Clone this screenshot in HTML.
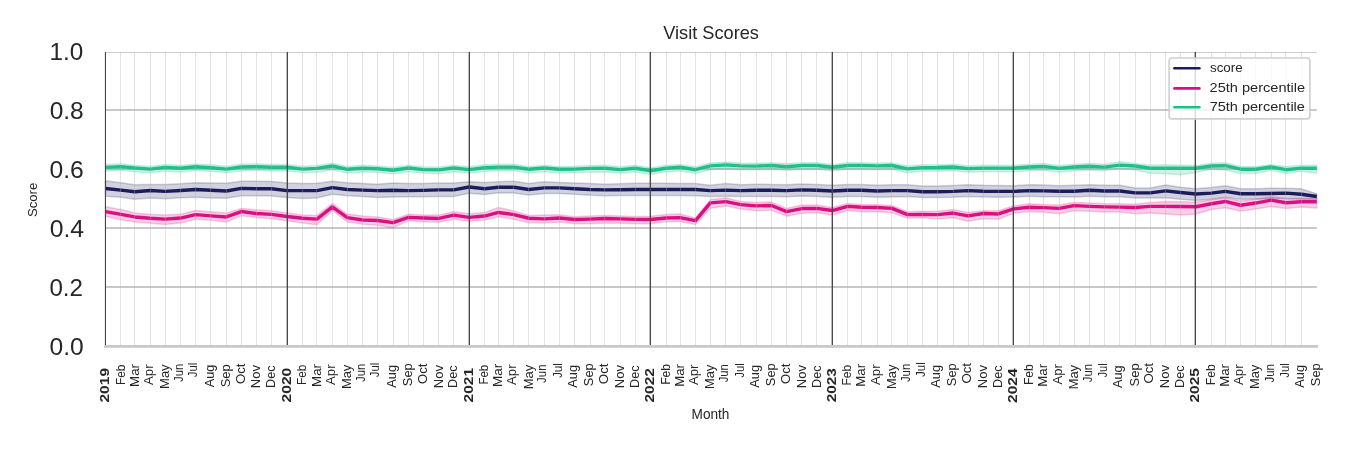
<!DOCTYPE html><html><head><meta charset="utf-8"><title>Visit Scores</title><style>html,body{margin:0;padding:0;background:#fff;}svg{display:block;}text{font-family:"Liberation Sans",sans-serif;fill:#262626;}</style></head><body>
<svg width="1350" height="450" viewBox="0 0 1350 450">
<rect width="1350" height="450" fill="#fff"/>
<line x1="105.5" y1="52.5" x2="1316.8" y2="52.5" stroke="#cccccc" stroke-width="1"/>
<line x1="105.0" y1="110.0" x2="1316.8" y2="110.0" stroke="#c8c8c8" stroke-width="2.1"/>
<line x1="105.0" y1="169.0" x2="1316.8" y2="169.0" stroke="#c8c8c8" stroke-width="2.1"/>
<line x1="105.0" y1="228.0" x2="1316.8" y2="228.0" stroke="#c8c8c8" stroke-width="2.1"/>
<line x1="105.0" y1="287.0" x2="1316.8" y2="287.0" stroke="#c8c8c8" stroke-width="2.1"/>
<rect x="104" y="345" width="1214" height="2.8" fill="#c9c9c9"/>
<polygon points="105.50,180.75 120.92,182.85 134.85,184.75 150.27,184.45 165.19,184.45 180.62,183.75 195.54,182.85 210.96,183.05 226.38,183.35 241.30,181.15 256.73,181.25 271.65,181.55 287.07,183.05 302.49,183.55 316.92,183.35 332.34,181.15 347.26,182.65 362.68,183.55 377.61,184.15 393.03,183.05 408.45,183.55 423.37,183.55 438.79,183.05 453.72,183.05 469.14,181.85 484.56,182.45 498.49,181.85 513.91,181.15 528.83,183.55 544.25,181.85 559.18,182.45 574.60,183.05 590.02,183.55 604.94,184.15 620.36,183.65 635.29,183.35 650.71,183.35 666.13,183.35 680.06,183.55 695.48,183.55 710.40,185.25 725.82,183.55 740.75,184.65 756.17,184.25 771.59,184.45 786.51,184.75 801.94,184.05 816.86,184.45 832.28,185.15 847.70,184.45 861.63,184.45 877.05,185.15 891.97,184.75 907.40,184.75 922.32,186.05 937.74,186.05 953.16,185.55 968.08,184.75 983.51,185.35 998.43,185.55 1013.85,185.75 1029.27,184.65 1043.70,185.05 1059.12,185.75 1074.04,185.35 1089.46,184.65 1104.39,185.15 1119.81,185.15 1135.23,188.05 1150.15,188.05 1165.57,185.05 1180.50,187.35 1195.92,188.85 1211.34,187.55 1225.27,185.65 1240.69,188.85 1255.61,188.85 1271.03,188.15 1285.96,188.15 1301.38,188.85 1316.80,193.85 1316.80,199.20 1301.38,199.20 1285.96,198.50 1271.03,198.50 1255.61,199.00 1240.69,199.20 1225.27,197.30 1211.34,199.20 1195.92,200.40 1180.50,199.20 1165.57,197.70 1150.15,197.90 1135.23,197.90 1119.81,196.80 1104.39,196.80 1089.46,196.30 1074.04,197.00 1059.12,196.80 1043.70,196.70 1029.27,196.30 1013.85,197.10 998.43,197.20 983.51,197.00 968.08,196.40 953.16,197.20 937.74,197.40 922.32,197.40 907.40,196.40 891.97,196.90 877.05,197.30 861.63,196.60 847.70,196.60 832.28,197.30 816.86,196.50 801.94,196.10 786.51,196.80 771.59,196.50 756.17,196.60 740.75,196.50 725.82,196.30 710.40,196.50 695.48,195.80 680.06,195.60 666.13,195.60 650.71,195.40 635.29,195.40 620.36,195.60 604.94,195.70 590.02,195.20 574.60,194.30 559.18,193.40 544.25,193.40 528.83,194.90 513.91,193.00 498.49,192.70 484.56,194.50 469.14,193.20 453.72,196.50 438.79,196.50 423.37,196.80 408.45,196.80 393.03,197.10 377.61,197.40 362.68,196.50 347.26,195.70 332.34,194.30 316.92,197.90 302.49,198.50 287.07,197.40 271.65,196.00 256.73,195.70 241.30,195.70 226.38,198.20 210.96,197.90 195.54,197.30 180.62,197.70 165.19,198.70 150.27,198.10 134.85,199.20 120.92,197.30 105.50,196.20" fill="#1b1c5c" fill-opacity="0.2" stroke="#1b1c5c" stroke-opacity="0.2" stroke-width="1.5" stroke-linejoin="round"/>
<polygon points="105.50,206.70 120.92,209.60 134.85,213.10 150.27,214.30 165.19,215.10 180.62,214.30 195.54,210.40 210.96,211.80 226.38,212.90 241.30,208.50 256.73,209.80 271.65,210.70 287.07,213.10 302.49,215.10 316.92,215.40 332.34,203.40 347.26,214.00 362.68,215.90 377.61,216.90 393.03,219.60 408.45,214.30 423.37,214.90 438.79,215.10 453.72,211.80 469.14,213.70 484.56,212.60 498.49,207.40 513.91,210.90 528.83,215.40 544.25,215.10 559.18,214.80 574.60,216.70 590.02,215.90 604.94,215.40 620.36,215.90 635.29,216.50 650.71,216.30 666.13,214.60 680.06,214.00 695.48,217.90 710.40,199.60 725.82,198.10 740.75,201.50 756.17,202.40 771.59,202.10 786.51,208.50 801.94,205.10 816.86,205.10 832.28,207.40 847.70,203.50 861.63,204.60 877.05,204.80 891.97,205.50 907.40,211.80 922.32,211.30 937.74,211.30 953.16,209.60 968.08,212.40 983.51,210.70 998.43,210.70 1013.85,205.70 1029.27,203.70 1043.70,204.60 1059.12,204.90 1074.04,202.40 1089.46,203.10 1104.39,203.70 1119.81,203.70 1135.23,204.30 1150.15,202.60 1165.57,201.50 1180.50,201.70 1195.92,202.20 1211.34,199.70 1225.27,197.70 1240.69,200.70 1255.61,199.20 1271.03,196.70 1285.96,198.70 1301.38,198.20 1316.80,198.70 1316.80,208.05 1301.38,207.05 1285.96,208.55 1271.03,206.55 1255.61,209.05 1240.69,211.05 1225.27,207.85 1211.34,209.55 1195.92,214.05 1180.50,215.05 1165.57,213.95 1150.15,213.05 1135.23,213.65 1119.81,211.95 1104.39,211.95 1089.46,211.35 1074.04,210.85 1059.12,213.75 1043.70,212.25 1029.27,211.45 1013.85,213.35 998.43,219.25 983.51,218.65 968.08,221.15 953.16,217.85 937.74,218.95 922.32,217.85 907.40,218.35 891.97,212.85 877.05,211.75 861.63,211.75 847.70,210.65 832.28,215.05 816.86,212.85 801.94,213.35 786.51,216.15 771.59,210.35 756.17,210.65 740.75,208.95 725.82,205.95 710.40,208.15 695.48,224.45 680.06,221.45 666.13,221.75 650.71,223.75 635.29,223.85 620.36,223.35 604.94,223.05 590.02,223.85 574.60,223.85 559.18,221.95 544.25,223.05 528.83,222.75 513.91,219.15 498.49,216.75 484.56,220.05 469.14,221.35 453.72,219.15 438.79,222.25 423.37,221.65 408.45,220.85 393.03,227.85 377.61,225.15 362.68,224.15 347.26,221.95 332.34,210.45 316.92,224.75 302.49,223.05 287.07,220.85 271.65,218.65 256.73,217.45 241.30,215.85 226.38,221.95 210.96,220.25 195.54,219.15 180.62,223.05 165.19,224.45 150.27,223.35 134.85,221.95 120.92,219.75 105.50,216.35" fill="#dc0f82" fill-opacity="0.2" stroke="#dc0f82" stroke-opacity="0.2" stroke-width="1.5" stroke-linejoin="round"/>
<polygon points="105.50,164.55 120.92,163.75 134.85,165.15 150.27,166.25 165.19,164.55 180.62,165.35 195.54,163.95 210.96,164.85 226.38,166.25 241.30,164.15 256.73,163.75 271.65,164.45 287.07,164.45 302.49,166.25 316.92,165.55 332.34,163.15 347.26,166.45 362.68,165.35 377.61,165.95 393.03,167.35 408.45,165.15 423.37,166.75 438.79,167.05 453.72,165.15 469.14,166.75 484.56,164.85 498.49,164.25 513.91,164.25 528.83,166.45 544.25,165.15 559.18,166.45 574.60,166.25 590.02,165.55 604.94,165.35 620.36,166.75 635.29,165.35 650.71,167.85 666.13,165.35 680.06,164.45 695.48,166.85 710.40,163.05 725.82,162.05 740.75,163.05 756.17,163.25 771.59,162.65 786.51,163.85 801.94,162.65 816.86,162.65 832.28,164.45 847.70,162.65 861.63,162.65 877.05,163.05 891.97,162.65 907.40,166.05 922.32,164.75 937.74,164.65 953.16,164.15 968.08,165.75 983.51,165.25 998.43,165.25 1013.85,165.25 1029.27,164.15 1043.70,163.55 1059.12,165.55 1074.04,164.15 1089.46,163.35 1104.39,164.25 1119.81,161.65 1135.23,163.45 1150.15,165.05 1165.57,164.65 1180.50,165.05 1195.92,165.55 1211.34,163.35 1225.27,162.75 1240.69,166.45 1255.61,166.45 1271.03,164.45 1285.96,166.45 1301.38,165.15 1316.80,165.15 1316.80,173.55 1301.38,171.25 1285.96,173.55 1271.03,170.25 1255.61,173.55 1240.69,173.55 1225.27,169.95 1211.34,169.15 1195.92,172.45 1180.50,174.65 1165.57,173.75 1150.15,173.35 1135.23,170.05 1119.81,168.55 1104.39,170.85 1089.46,169.95 1074.04,170.75 1059.12,172.15 1043.70,170.15 1029.27,170.75 1013.85,171.85 998.43,171.85 983.51,171.85 968.08,172.35 953.16,170.75 937.74,171.25 922.32,171.35 907.40,172.65 891.97,169.25 877.05,169.65 861.63,169.25 847.70,169.25 832.28,171.05 816.86,169.25 801.94,169.25 786.51,170.45 771.59,169.25 756.17,169.85 740.75,169.65 725.82,168.65 710.40,169.65 695.48,173.45 680.06,171.05 666.13,171.95 650.71,174.45 635.29,171.95 620.36,173.35 604.94,171.95 590.02,172.15 574.60,172.85 559.18,173.05 544.25,171.75 528.83,173.05 513.91,170.85 498.49,170.85 484.56,171.45 469.14,173.35 453.72,171.75 438.79,173.65 423.37,173.35 408.45,171.75 393.03,173.95 377.61,172.55 362.68,171.95 347.26,173.05 332.34,169.75 316.92,172.15 302.49,172.85 287.07,171.05 271.65,171.05 256.73,170.35 241.30,170.75 226.38,172.85 210.96,171.45 195.54,170.55 180.62,171.95 165.19,171.15 150.27,172.85 134.85,171.75 120.92,170.35 105.50,171.15" fill="#1fbf8c" fill-opacity="0.2" stroke="#1fbf8c" stroke-opacity="0.2" stroke-width="1.5" stroke-linejoin="round"/>
<polyline points="105.50,188.50 120.92,190.10 134.85,191.70 150.27,190.50 165.19,191.40 180.62,190.50 195.54,189.50 210.96,190.30 226.38,191.00 241.30,188.40 256.73,188.70 271.65,188.70 287.07,190.60 302.49,190.60 316.92,190.60 332.34,187.60 347.26,189.50 362.68,190.10 377.61,190.60 393.03,190.30 408.45,190.60 423.37,190.40 438.79,189.90 453.72,189.90 469.14,187.00 484.56,188.70 498.49,187.30 513.91,187.30 528.83,189.50 544.25,187.90 559.18,187.90 574.60,188.70 590.02,189.50 604.94,189.90 620.36,189.70 635.29,189.50 650.71,189.50 666.13,189.50 680.06,189.50 695.48,189.50 710.40,190.60 725.82,190.10 740.75,190.60 756.17,190.30 771.59,190.30 786.51,190.60 801.94,189.90 816.86,190.30 832.28,191.00 847.70,190.30 861.63,190.30 877.05,191.00 891.97,190.60 907.40,190.60 922.32,191.70 937.74,191.70 953.16,191.40 968.08,190.60 983.51,191.20 998.43,191.40 1013.85,191.40 1029.27,190.60 1043.70,190.90 1059.12,191.20 1074.04,191.20 1089.46,190.30 1104.39,191.00 1119.81,191.00 1135.23,192.90 1150.15,192.90 1165.57,190.90 1180.50,192.50 1195.92,194.00 1211.34,193.10 1225.27,191.40 1240.69,193.70 1255.61,193.70 1271.03,193.50 1285.96,193.10 1301.38,194.30 1316.80,196.50" fill="none" stroke="#1b1c5c" stroke-width="3.4" stroke-linejoin="round" stroke-linecap="butt"/>
<polyline points="105.50,211.55 120.92,214.35 134.85,216.95 150.27,218.25 165.19,219.15 180.62,218.05 195.54,214.65 210.96,215.85 226.38,216.95 241.30,211.55 256.73,213.55 271.65,214.35 287.07,216.55 302.49,218.25 316.92,219.15 332.34,206.95 347.26,217.65 362.68,219.95 377.61,220.55 393.03,222.65 408.45,217.35 423.37,218.05 438.79,218.45 453.72,215.15 469.14,217.35 484.56,216.05 498.49,212.45 513.91,214.65 528.83,218.25 544.25,218.85 559.18,218.05 574.60,219.55 590.02,219.15 604.94,218.55 620.36,218.85 635.29,219.35 650.71,219.45 666.13,218.05 680.06,217.65 695.48,220.55 710.40,202.85 725.82,201.65 740.75,204.65 756.17,205.85 771.59,205.45 786.51,211.65 801.94,208.55 816.86,208.35 832.28,210.55 847.70,206.35 861.63,207.25 877.05,207.45 891.97,208.35 907.40,214.65 922.32,214.35 937.74,214.65 953.16,213.05 968.08,215.85 983.51,213.55 998.43,213.95 1013.85,208.85 1029.27,207.25 1043.70,207.65 1059.12,208.35 1074.04,205.65 1089.46,206.35 1104.39,206.85 1119.81,207.15 1135.23,207.45 1150.15,206.35 1165.57,206.35 1180.50,206.55 1195.92,206.75 1211.34,203.75 1225.27,201.45 1240.69,205.25 1255.61,203.05 1271.03,200.05 1285.96,202.75 1301.38,201.75 1316.80,201.75" fill="none" stroke="#dc0f82" stroke-width="3.4" stroke-linejoin="round" stroke-linecap="butt"/>
<polyline points="105.50,167.40 120.92,166.60 134.85,168.00 150.27,169.10 165.19,167.40 180.62,168.20 195.54,166.80 210.96,167.70 226.38,169.10 241.30,167.00 256.73,166.60 271.65,167.30 287.07,167.30 302.49,169.10 316.92,168.40 332.34,166.00 347.26,169.30 362.68,168.20 377.61,168.80 393.03,170.20 408.45,168.00 423.37,169.60 438.79,169.90 453.72,168.00 469.14,169.60 484.56,167.70 498.49,167.10 513.91,167.10 528.83,169.30 544.25,168.00 559.18,169.30 574.60,169.10 590.02,168.40 604.94,168.20 620.36,169.60 635.29,168.20 650.71,170.70 666.13,168.20 680.06,167.30 695.48,169.70 710.40,165.90 725.82,164.90 740.75,165.90 756.17,166.10 771.59,165.50 786.51,166.70 801.94,165.50 816.86,165.50 832.28,167.30 847.70,165.50 861.63,165.50 877.05,165.90 891.97,165.50 907.40,168.90 922.32,167.60 937.74,167.50 953.16,167.00 968.08,168.60 983.51,168.10 998.43,168.10 1013.85,168.10 1029.27,167.00 1043.70,166.40 1059.12,168.40 1074.04,167.00 1089.46,166.20 1104.39,167.10 1119.81,165.10 1135.23,166.00 1150.15,168.20 1165.57,168.20 1180.50,168.20 1195.92,168.20 1211.34,166.00 1225.27,165.70 1240.69,169.20 1255.61,169.30 1271.03,167.00 1285.96,169.70 1301.38,168.10 1316.80,168.30" fill="none" stroke="#1fbf8c" stroke-width="3.4" stroke-linejoin="round" stroke-linecap="butt"/>
<path d="M120.5 52V346M134.5 52V346M150.5 52V346M165.5 52V346M180.5 52V346M195.5 52V346M210.5 52V346M226.5 52V346M241.5 52V346M256.5 52V346M271.5 52V346M302.5 52V346M316.5 52V346M332.5 52V346M347.5 52V346M362.5 52V346M377.5 52V346M393.5 52V346M408.5 52V346M423.5 52V346M438.5 52V346M453.5 52V346M484.5 52V346M498.5 52V346M513.5 52V346M528.5 52V346M544.5 52V346M559.5 52V346M574.5 52V346M590.5 52V346M604.5 52V346M620.5 52V346M635.5 52V346M666.5 52V346M680.5 52V346M695.5 52V346M710.5 52V346M725.5 52V346M740.5 52V346M756.5 52V346M771.5 52V346M786.5 52V346M801.5 52V346M816.5 52V346M847.5 52V346M861.5 52V346M877.5 52V346M891.5 52V346M907.5 52V346M922.5 52V346M937.5 52V346M953.5 52V346M968.5 52V346M983.5 52V346M998.5 52V346M1029.5 52V346M1043.5 52V346M1059.5 52V346M1074.5 52V346M1089.5 52V346M1104.5 52V346M1119.5 52V346M1135.5 52V346M1150.5 52V346M1165.5 52V346M1180.5 52V346M1211.5 52V346M1225.5 52V346M1240.5 52V346M1255.5 52V346M1271.5 52V346M1285.5 52V346M1301.5 52V346" stroke="#b0b0b0" stroke-opacity="0.35" stroke-width="1" fill="none"/>
<line x1="105.45" y1="52" x2="105.45" y2="345" stroke="#474747" stroke-width="1.1"/>
<line x1="287.33" y1="52" x2="287.33" y2="345" stroke="#474747" stroke-width="1.35"/>
<line x1="469.33" y1="52" x2="469.33" y2="345" stroke="#474747" stroke-width="1.35"/>
<line x1="650.33" y1="52" x2="650.33" y2="345" stroke="#474747" stroke-width="1.35"/>
<line x1="832.33" y1="52" x2="832.33" y2="345" stroke="#474747" stroke-width="1.35"/>
<line x1="1013.33" y1="52" x2="1013.33" y2="345" stroke="#474747" stroke-width="1.35"/>
<line x1="1195.33" y1="52" x2="1195.33" y2="345" stroke="#474747" stroke-width="1.35"/>
<rect x="1169.1" y="58" width="140.8" height="60.9" rx="3" ry="3" fill="#fff" fill-opacity="0.8" stroke="#cfcfcf" stroke-width="1.6"/>
<line x1="1174.4" y1="68.3" x2="1199.4" y2="68.3" stroke="#1b1c5c" stroke-width="2.6" stroke-linecap="round"/>
<line x1="1174.4" y1="88.4" x2="1199.4" y2="88.4" stroke="#dc0f82" stroke-width="2.6" stroke-linecap="round"/>
<line x1="1174.4" y1="107.3" x2="1199.4" y2="107.3" stroke="#1fbf8c" stroke-width="2.6" stroke-linecap="round"/>
<g style="will-change:transform">
<text x="663.18" y="38.93" font-size="18.77" textLength="95.78" lengthAdjust="spacingAndGlyphs">Visit Scores</text>
<text x="49.46" y="59.92" font-size="24.28" textLength="33.77" lengthAdjust="spacingAndGlyphs">1.0</text>
<text x="49.65" y="119.00" font-size="24.28" textLength="34.05" lengthAdjust="spacingAndGlyphs">0.8</text>
<text x="49.42" y="178.12" font-size="24.28" textLength="34.33" lengthAdjust="spacingAndGlyphs">0.6</text>
<text x="49.67" y="237.06" font-size="24.28" textLength="34.40" lengthAdjust="spacingAndGlyphs">0.4</text>
<text x="49.44" y="296.17" font-size="24.28" textLength="33.58" lengthAdjust="spacingAndGlyphs">0.2</text>
<text x="49.47" y="355.14" font-size="24.28" textLength="34.26" lengthAdjust="spacingAndGlyphs">0.0</text>
<text transform="translate(36.51,217.07) rotate(-90)" font-size="13.08" textLength="34.31" lengthAdjust="spacingAndGlyphs">Score</text>
<text x="691.58" y="419.35" font-size="13.86" textLength="37.88" lengthAdjust="spacingAndGlyphs">Month</text>
<text transform="translate(108.96,402.57) rotate(-90)" font-size="13.35" font-weight="bold" textLength="34.61" lengthAdjust="spacingAndGlyphs">2019</text>
<text transform="translate(125.01,385.09) rotate(-90)" font-size="13.26" textLength="20.55" lengthAdjust="spacingAndGlyphs">Feb</text>
<text transform="translate(138.75,386.89) rotate(-90)" font-size="13.26" textLength="22.87" lengthAdjust="spacingAndGlyphs">Mar</text>
<text transform="translate(152.96,384.89) rotate(-90)" font-size="13.26" textLength="20.42" lengthAdjust="spacingAndGlyphs">Apr</text>
<text transform="translate(168.99,388.89) rotate(-90)" font-size="13.26" textLength="24.45" lengthAdjust="spacingAndGlyphs">May</text>
<text transform="translate(182.64,382.05) rotate(-90)" font-size="13.26" textLength="18.31" lengthAdjust="spacingAndGlyphs">Jun</text>
<text transform="translate(197.37,377.30) rotate(-90)" font-size="13.26" textLength="14.60" lengthAdjust="spacingAndGlyphs">Jul</text>
<text transform="translate(213.97,387.27) rotate(-90)" font-size="13.26" textLength="22.57" lengthAdjust="spacingAndGlyphs">Aug</text>
<text transform="translate(230.06,387.28) rotate(-90)" font-size="13.26" textLength="23.09" lengthAdjust="spacingAndGlyphs">Sep</text>
<text transform="translate(244.90,384.04) rotate(-90)" font-size="13.26" textLength="20.56" lengthAdjust="spacingAndGlyphs">Oct</text>
<text transform="translate(260.00,388.19) rotate(-90)" font-size="13.26" textLength="23.06" lengthAdjust="spacingAndGlyphs">Nov</text>
<text transform="translate(274.96,387.95) rotate(-90)" font-size="13.26" textLength="22.58" lengthAdjust="spacingAndGlyphs">Dec</text>
<text transform="translate(290.99,402.48) rotate(-90)" font-size="13.35" font-weight="bold" textLength="34.77" lengthAdjust="spacingAndGlyphs">2020</text>
<text transform="translate(306.07,385.03) rotate(-90)" font-size="13.26" textLength="20.49" lengthAdjust="spacingAndGlyphs">Feb</text>
<text transform="translate(320.75,386.89) rotate(-90)" font-size="13.26" textLength="22.87" lengthAdjust="spacingAndGlyphs">Mar</text>
<text transform="translate(334.96,384.89) rotate(-90)" font-size="13.26" textLength="20.42" lengthAdjust="spacingAndGlyphs">Apr</text>
<text transform="translate(350.96,389.11) rotate(-90)" font-size="13.26" textLength="24.41" lengthAdjust="spacingAndGlyphs">May</text>
<text transform="translate(364.51,381.95) rotate(-90)" font-size="13.26" textLength="18.31" lengthAdjust="spacingAndGlyphs">Jun</text>
<text transform="translate(379.37,377.30) rotate(-90)" font-size="13.26" textLength="14.60" lengthAdjust="spacingAndGlyphs">Jul</text>
<text transform="translate(395.95,387.68) rotate(-90)" font-size="13.26" textLength="22.69" lengthAdjust="spacingAndGlyphs">Aug</text>
<text transform="translate(412.09,386.17) rotate(-90)" font-size="13.26" textLength="22.82" lengthAdjust="spacingAndGlyphs">Sep</text>
<text transform="translate(426.96,383.96) rotate(-90)" font-size="13.26" textLength="20.37" lengthAdjust="spacingAndGlyphs">Oct</text>
<text transform="translate(443.00,388.19) rotate(-90)" font-size="13.26" textLength="23.06" lengthAdjust="spacingAndGlyphs">Nov</text>
<text transform="translate(456.96,387.95) rotate(-90)" font-size="13.26" textLength="22.58" lengthAdjust="spacingAndGlyphs">Dec</text>
<text transform="translate(472.95,402.41) rotate(-90)" font-size="13.35" font-weight="bold" textLength="34.54" lengthAdjust="spacingAndGlyphs">2021</text>
<text transform="translate(488.01,384.60) rotate(-90)" font-size="13.26" textLength="19.87" lengthAdjust="spacingAndGlyphs">Feb</text>
<text transform="translate(501.83,386.98) rotate(-90)" font-size="13.26" textLength="23.33" lengthAdjust="spacingAndGlyphs">Mar</text>
<text transform="translate(515.96,384.89) rotate(-90)" font-size="13.26" textLength="20.42" lengthAdjust="spacingAndGlyphs">Apr</text>
<text transform="translate(532.92,389.15) rotate(-90)" font-size="13.26" textLength="24.41" lengthAdjust="spacingAndGlyphs">May</text>
<text transform="translate(546.35,382.90) rotate(-90)" font-size="13.26" textLength="18.44" lengthAdjust="spacingAndGlyphs">Jun</text>
<text transform="translate(561.97,378.00) rotate(-90)" font-size="13.26" textLength="14.92" lengthAdjust="spacingAndGlyphs">Jul</text>
<text transform="translate(576.95,387.68) rotate(-90)" font-size="13.26" textLength="22.69" lengthAdjust="spacingAndGlyphs">Aug</text>
<text transform="translate(593.09,386.17) rotate(-90)" font-size="13.26" textLength="22.82" lengthAdjust="spacingAndGlyphs">Sep</text>
<text transform="translate(607.88,384.17) rotate(-90)" font-size="13.26" textLength="20.75" lengthAdjust="spacingAndGlyphs">Oct</text>
<text transform="translate(624.00,388.19) rotate(-90)" font-size="13.26" textLength="23.06" lengthAdjust="spacingAndGlyphs">Nov</text>
<text transform="translate(638.96,387.95) rotate(-90)" font-size="13.26" textLength="22.58" lengthAdjust="spacingAndGlyphs">Dec</text>
<text transform="translate(653.94,402.61) rotate(-90)" font-size="13.35" font-weight="bold" textLength="34.56" lengthAdjust="spacingAndGlyphs">2022</text>
<text transform="translate(670.12,384.85) rotate(-90)" font-size="13.26" textLength="20.86" lengthAdjust="spacingAndGlyphs">Feb</text>
<text transform="translate(683.80,386.85) rotate(-90)" font-size="13.26" textLength="22.85" lengthAdjust="spacingAndGlyphs">Mar</text>
<text transform="translate(697.82,385.05) rotate(-90)" font-size="13.26" textLength="20.42" lengthAdjust="spacingAndGlyphs">Apr</text>
<text transform="translate(713.87,388.99) rotate(-90)" font-size="13.26" textLength="24.30" lengthAdjust="spacingAndGlyphs">May</text>
<text transform="translate(728.49,382.37) rotate(-90)" font-size="13.26" textLength="18.28" lengthAdjust="spacingAndGlyphs">Jun</text>
<text transform="translate(743.61,377.72) rotate(-90)" font-size="13.26" textLength="14.60" lengthAdjust="spacingAndGlyphs">Jul</text>
<text transform="translate(758.96,387.64) rotate(-90)" font-size="13.26" textLength="22.69" lengthAdjust="spacingAndGlyphs">Aug</text>
<text transform="translate(775.09,386.17) rotate(-90)" font-size="13.26" textLength="22.82" lengthAdjust="spacingAndGlyphs">Sep</text>
<text transform="translate(789.96,383.96) rotate(-90)" font-size="13.26" textLength="20.37" lengthAdjust="spacingAndGlyphs">Oct</text>
<text transform="translate(806.00,388.19) rotate(-90)" font-size="13.26" textLength="23.06" lengthAdjust="spacingAndGlyphs">Nov</text>
<text transform="translate(820.96,387.95) rotate(-90)" font-size="13.26" textLength="22.58" lengthAdjust="spacingAndGlyphs">Dec</text>
<text transform="translate(835.94,402.35) rotate(-90)" font-size="13.35" font-weight="bold" textLength="34.24" lengthAdjust="spacingAndGlyphs">2023</text>
<text transform="translate(851.07,385.53) rotate(-90)" font-size="13.26" textLength="20.67" lengthAdjust="spacingAndGlyphs">Feb</text>
<text transform="translate(864.84,386.70) rotate(-90)" font-size="13.26" textLength="22.88" lengthAdjust="spacingAndGlyphs">Mar</text>
<text transform="translate(879.96,384.89) rotate(-90)" font-size="13.26" textLength="20.42" lengthAdjust="spacingAndGlyphs">Apr</text>
<text transform="translate(895.84,388.96) rotate(-90)" font-size="13.26" textLength="24.30" lengthAdjust="spacingAndGlyphs">May</text>
<text transform="translate(909.69,382.11) rotate(-90)" font-size="13.26" textLength="18.39" lengthAdjust="spacingAndGlyphs">Jun</text>
<text transform="translate(924.97,377.01) rotate(-90)" font-size="13.26" textLength="14.72" lengthAdjust="spacingAndGlyphs">Jul</text>
<text transform="translate(939.95,387.68) rotate(-90)" font-size="13.26" textLength="22.69" lengthAdjust="spacingAndGlyphs">Aug</text>
<text transform="translate(956.10,386.18) rotate(-90)" font-size="13.26" textLength="22.86" lengthAdjust="spacingAndGlyphs">Sep</text>
<text transform="translate(970.89,383.51) rotate(-90)" font-size="13.26" textLength="20.56" lengthAdjust="spacingAndGlyphs">Oct</text>
<text transform="translate(987.00,388.19) rotate(-90)" font-size="13.26" textLength="23.06" lengthAdjust="spacingAndGlyphs">Nov</text>
<text transform="translate(1001.96,387.95) rotate(-90)" font-size="13.26" textLength="22.58" lengthAdjust="spacingAndGlyphs">Dec</text>
<text transform="translate(1016.92,402.94) rotate(-90)" font-size="13.35" font-weight="bold" textLength="34.56" lengthAdjust="spacingAndGlyphs">2024</text>
<text transform="translate(1033.10,385.09) rotate(-90)" font-size="13.26" textLength="20.85" lengthAdjust="spacingAndGlyphs">Feb</text>
<text transform="translate(1046.84,386.70) rotate(-90)" font-size="13.26" textLength="22.88" lengthAdjust="spacingAndGlyphs">Mar</text>
<text transform="translate(1062.04,384.46) rotate(-90)" font-size="13.26" textLength="20.35" lengthAdjust="spacingAndGlyphs">Apr</text>
<text transform="translate(1077.80,389.29) rotate(-90)" font-size="13.26" textLength="24.30" lengthAdjust="spacingAndGlyphs">May</text>
<text transform="translate(1091.67,382.29) rotate(-90)" font-size="13.26" textLength="18.43" lengthAdjust="spacingAndGlyphs">Jun</text>
<text transform="translate(1106.93,377.46) rotate(-90)" font-size="13.26" textLength="14.10" lengthAdjust="spacingAndGlyphs">Jul</text>
<text transform="translate(1121.95,387.93) rotate(-90)" font-size="13.26" textLength="22.57" lengthAdjust="spacingAndGlyphs">Aug</text>
<text transform="translate(1139.07,386.44) rotate(-90)" font-size="13.26" textLength="23.12" lengthAdjust="spacingAndGlyphs">Sep</text>
<text transform="translate(1152.89,383.51) rotate(-90)" font-size="13.26" textLength="20.56" lengthAdjust="spacingAndGlyphs">Oct</text>
<text transform="translate(1169.00,388.19) rotate(-90)" font-size="13.26" textLength="23.06" lengthAdjust="spacingAndGlyphs">Nov</text>
<text transform="translate(1183.96,387.95) rotate(-90)" font-size="13.26" textLength="22.58" lengthAdjust="spacingAndGlyphs">Dec</text>
<text transform="translate(1198.99,402.54) rotate(-90)" font-size="13.35" font-weight="bold" textLength="34.36" lengthAdjust="spacingAndGlyphs">2025</text>
<text transform="translate(1215.09,385.16) rotate(-90)" font-size="13.26" textLength="21.03" lengthAdjust="spacingAndGlyphs">Feb</text>
<text transform="translate(1228.80,386.85) rotate(-90)" font-size="13.26" textLength="22.85" lengthAdjust="spacingAndGlyphs">Mar</text>
<text transform="translate(1242.96,384.89) rotate(-90)" font-size="13.26" textLength="20.42" lengthAdjust="spacingAndGlyphs">Apr</text>
<text transform="translate(1258.96,389.11) rotate(-90)" font-size="13.26" textLength="24.41" lengthAdjust="spacingAndGlyphs">May</text>
<text transform="translate(1273.61,382.58) rotate(-90)" font-size="13.26" textLength="18.56" lengthAdjust="spacingAndGlyphs">Jun</text>
<text transform="translate(1288.61,377.72) rotate(-90)" font-size="13.26" textLength="14.60" lengthAdjust="spacingAndGlyphs">Jul</text>
<text transform="translate(1303.95,387.68) rotate(-90)" font-size="13.26" textLength="22.69" lengthAdjust="spacingAndGlyphs">Aug</text>
<text transform="translate(1320.09,386.17) rotate(-90)" font-size="13.26" textLength="22.82" lengthAdjust="spacingAndGlyphs">Sep</text>
<text x="1209.98" y="71.96" font-size="13.59" textLength="32.70" lengthAdjust="spacingAndGlyphs">score</text>
<text x="1209.64" y="91.87" font-size="13.59" textLength="95.54" lengthAdjust="spacingAndGlyphs">25th percentile</text>
<text x="1209.65" y="110.86" font-size="13.59" textLength="95.27" lengthAdjust="spacingAndGlyphs">75th percentile</text>
</g>
</svg></body></html>
